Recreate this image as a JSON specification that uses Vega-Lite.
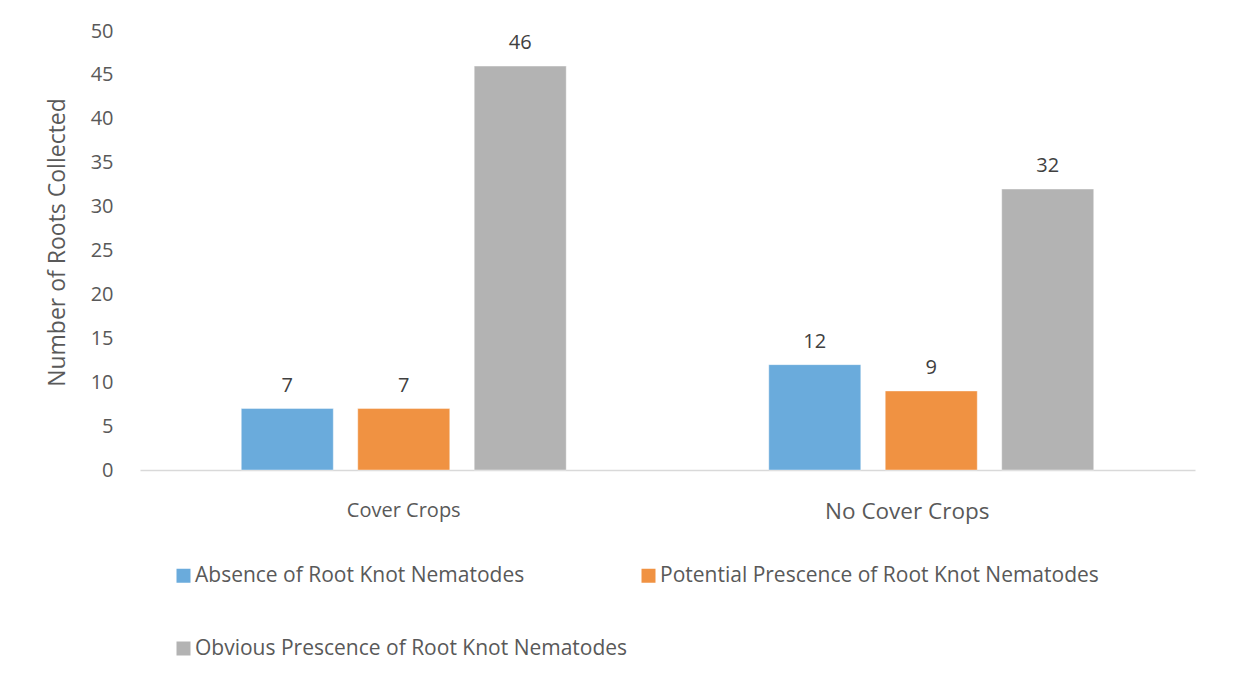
{
  "$schema": "https://vega.github.io/schema/vega-lite/v6.json",
  "width": 1055,
  "height": 439,
  "autosize": "none",
  "padding": {"left": 140, "top": 31, "right": 49, "bottom": 224},
  "background": "white",
  "config": {
    "font": "Open Sans",
    "view": {"stroke": null},
    "axis": {"labelColor": "#595959", "titleColor": "#595959", "labelFont": "Open Sans", "titleFont": "Open Sans"},
    "legend": {"labelColor": "#595959", "labelFont": "Open Sans"}
  },
  "data": {
    "values": [
      {"group": "Cover Crops", "category": "Absence of Root Knot Nematodes", "count": 7},
      {"group": "Cover Crops", "category": "Potential Prescence of Root Knot Nematodes", "count": 7},
      {"group": "Cover Crops", "category": "Obvious Prescence of Root Knot Nematodes", "count": 46},
      {"group": "No Cover Crops", "category": "Absence of Root Knot Nematodes", "count": 12},
      {"group": "No Cover Crops", "category": "Potential Prescence of Root Knot Nematodes", "count": 9},
      {"group": "No Cover Crops", "category": "Obvious Prescence of Root Knot Nematodes", "count": 32}
    ]
  },
  "encoding": {
    "x": {
      "field": "group",
      "type": "nominal",
      "sort": ["Cover Crops", "No Cover Crops"],
      "scale": {"paddingInner": 0.384, "paddingOuter": 0.192},
      "title": null,
      "axis": {
        "labelAngle": 0,
        "labelFontSize": {"condition": {"test": "datum.value == 'No Cover Crops'", "value": 22.5}, "value": 20},
        "labelOffset": {"condition": {"test": "datum.value == 'No Cover Crops'", "value": -24}, "value": 0},
        "labelPadding": 30,
        "ticks": false,
        "domain": true,
        "domainColor": "#D9D9D9",
        "domainWidth": 1.5,
        "grid": false
      }
    },
    "xOffset": {
      "field": "category",
      "sort": ["Absence of Root Knot Nematodes", "Potential Prescence of Root Knot Nematodes", "Obvious Prescence of Root Knot Nematodes"],
      "scale": {"paddingInner": 0.21, "paddingOuter": 0}
    },
    "y": {
      "field": "count",
      "type": "quantitative",
      "scale": {"domain": [0, 50]},
      "title": "Number of Roots Collected",
      "axis": {
        "values": [0, 5, 10, 15, 20, 25, 30, 35, 40, 45, 50],
        "labelFontSize": 20,
        "labelPadding": 27,
        "ticks": false,
        "domain": false,
        "grid": false,
        "titleFontSize": 23,
        "titleFontWeight": "normal",
        "titlePadding": 21,
        "titleY": 211
      }
    }
  },
  "layer": [
    {
      "mark": {"type": "bar", "stroke": "white", "strokeWidth": 1, "strokeOpacity": 0.4},
      "encoding": {
        "color": {
          "field": "category",
          "type": "nominal",
          "sort": ["Absence of Root Knot Nematodes", "Potential Prescence of Root Knot Nematodes", "Obvious Prescence of Root Knot Nematodes"],
          "scale": {
            "domain": ["Absence of Root Knot Nematodes", "Potential Prescence of Root Knot Nematodes", "Obvious Prescence of Root Knot Nematodes"],
            "range": ["#6AABDC", "#F09242", "#B3B3B3"]
          },
          "legend": {
            "title": null,
            "orient": "none",
            "direction": "horizontal",
            "legendX": 33,
            "legendY": 534,
            "columns": 2,
            "columnPadding": 10,
            "rowPadding": 51,
            "symbolType": "square",
            "symbolSize": 196,
            "symbolStrokeWidth": 0,
            "labelFontSize": 21,
            "labelOffset": 1,
            "labelLimit": 600
          }
        }
      }
    },
    {
      "mark": {"type": "text", "dy": -17, "fontSize": 20, "color": "#404040", "baseline": "alphabetic"},
      "encoding": {"text": {"field": "count", "type": "quantitative"}}
    }
  ]
}
